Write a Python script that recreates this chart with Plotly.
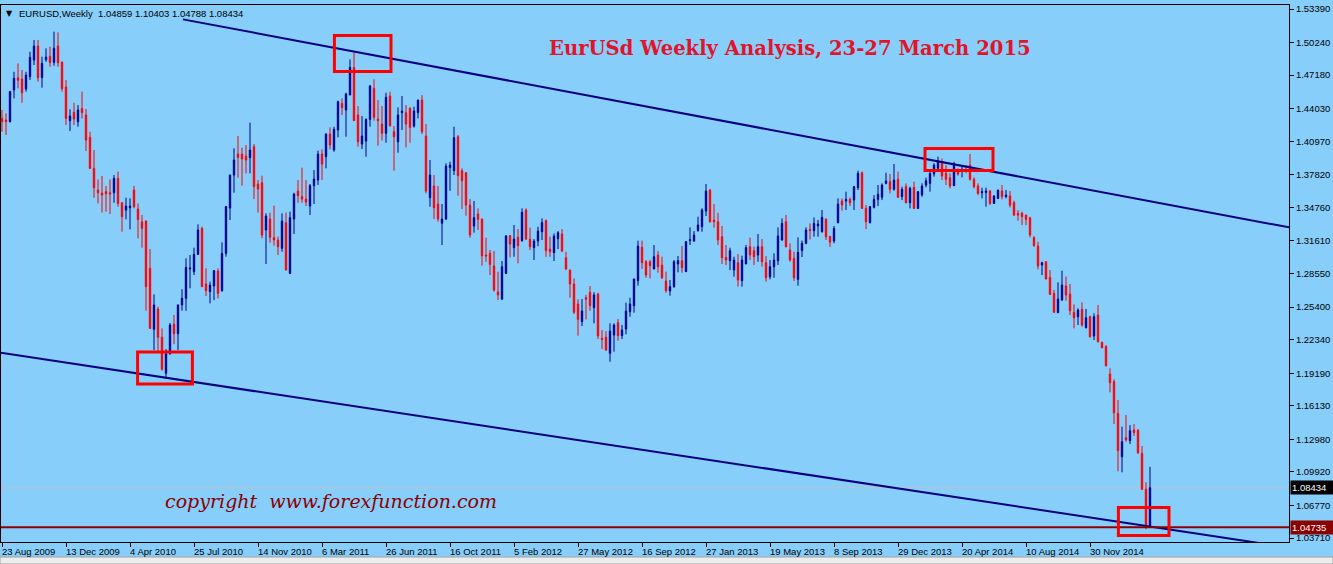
import plotly.graph_objects as go

# ---------------- data ----------------
bars = list(range(288))  # weekly bar index, bar 0 = week of 23 Aug 2009

opens = [
    1.4312, 1.4297, 1.4281, 1.4578, 1.4694, 1.4682, 1.4588, 1.4704, 1.4860, 1.4992,
    1.4694, 1.4863, 1.4894, 1.4838, 1.4992, 1.4841, 1.4607, 1.4290, 1.4369, 1.4281,
    1.4406, 1.4344, 1.4134, 1.3843, 1.3639, 1.3611, 1.3624, 1.3614, 1.3614, 1.3749,
    1.3520, 1.3451, 1.3473, 1.3639, 1.3461, 1.3342, 1.3348, 1.2904, 1.2331, 1.2522,
    1.2256, 1.1918, 1.2106, 1.2380, 1.2290, 1.2560, 1.2622, 1.2898, 1.2873, 1.3035,
    1.3280, 1.2757, 1.2685, 1.2738, 1.2879, 1.2694, 1.3045, 1.3470, 1.3780, 1.3978,
    1.3978, 1.3959, 1.3943, 1.4046, 1.3696, 1.3708, 1.3264, 1.3367, 1.3192, 1.3170,
    1.3092, 1.3333, 1.2857, 1.3367, 1.3630, 1.3577, 1.3555, 1.3489, 1.3680, 1.3733,
    1.3978, 1.3953, 1.4165, 1.4015, 1.4203, 1.4453, 1.4391, 1.4532, 1.4791, 1.4344,
    1.4071, 1.4099, 1.4303, 1.4594, 1.4306, 1.4259, 1.4172, 1.4522, 1.4187, 1.4093,
    1.4366, 1.4366, 1.4406, 1.4240, 1.4366, 1.4484, 1.4146, 1.3567, 1.3677, 1.3508,
    1.3327, 1.3367, 1.3849, 1.3821, 1.4140, 1.3821, 1.3802, 1.3498, 1.3301, 1.3414,
    1.3367, 1.3029, 1.3045, 1.2926, 1.2682, 1.2616, 1.2857, 1.3211, 1.3098, 1.3195,
    1.3164, 1.3452, 1.3176, 1.3098, 1.3160, 1.3248, 1.3351, 1.3085, 1.3051, 1.3182,
    1.3226, 1.3004, 1.2888, 1.2757, 1.2569, 1.2403, 1.2628, 1.2679, 1.2535, 1.2663,
    1.2247, 1.2256, 1.2106, 1.2278, 1.2394, 1.2272, 1.2334, 1.2497, 1.2553, 1.2788,
    1.3101, 1.2966, 1.2966, 1.2898, 1.3029, 1.2935, 1.2785, 1.2691, 1.2732, 1.2945,
    1.2976, 1.2873, 1.3164, 1.3160, 1.3258, 1.3295, 1.3442, 1.3639, 1.3358, 1.3342,
    1.3201, 1.3007, 1.2976, 1.2888, 1.2957, 1.2788, 1.2945, 1.3107, 1.3070, 1.3029,
    1.3107, 1.2957, 1.2825, 1.2919, 1.2976, 1.3170, 1.3342, 1.3076, 1.2998, 1.2800,
    1.3070, 1.3140, 1.3270, 1.3258, 1.3302, 1.3248, 1.3367, 1.3201, 1.3160, 1.3333,
    1.3536, 1.3536, 1.3552, 1.3545, 1.3661, 1.3802, 1.3467, 1.3333, 1.3477, 1.3552,
    1.3571, 1.3702, 1.3718, 1.3646, 1.3740, 1.3577, 1.3671, 1.3520, 1.3664, 1.3467,
    1.3592, 1.3686, 1.3702, 1.3790, 1.3843, 1.3905, 1.3796, 1.3755, 1.3680, 1.3827,
    1.3821, 1.3834, 1.3874, 1.3740, 1.3677, 1.3614, 1.3617, 1.3630, 1.3514, 1.3561,
    1.3630, 1.3577, 1.3583, 1.3520, 1.3420, 1.3420, 1.3404, 1.3379, 1.3192, 1.3113,
    1.2935, 1.2966, 1.2819, 1.2669, 1.2487, 1.2606, 1.2738, 1.2663, 1.2491, 1.2450,
    1.2519, 1.2346, 1.2450, 1.2268, 1.2465, 1.2209, 1.2168, 1.1911, 1.1840, 1.1542,
    1.1135, 1.1314, 1.1286, 1.1386, 1.1386, 1.1167, 1.0829, 1.04859,
]

highs = [
    1.4391, 1.4359, 1.4570, 1.4750, 1.4829, 1.4766, 1.4750, 1.4938, 1.5048, 1.5048,
    1.4891, 1.4970, 1.4985, 1.5126, 1.5120, 1.4845, 1.4672, 1.4397, 1.4459, 1.4438,
    1.4563, 1.4400, 1.4187, 1.4015, 1.3739, 1.3771, 1.3677, 1.3739, 1.3780, 1.3812,
    1.3523, 1.3567, 1.3561, 1.3677, 1.3514, 1.3405, 1.3352, 1.3085, 1.2660, 1.2544,
    1.2340, 1.2146, 1.2390, 1.2466, 1.2565, 1.2707, 1.2998, 1.3029, 1.3098, 1.3317,
    1.3295, 1.2904, 1.2779, 1.2888, 1.2904, 1.3148, 1.3490, 1.3785, 1.4031, 1.4147,
    1.4037, 1.4062, 1.4272, 1.4071, 1.3733, 1.3774, 1.3420, 1.3427, 1.3492, 1.3201,
    1.3420, 1.3427, 1.3436, 1.3614, 1.3733, 1.3849, 1.3733, 1.3696, 1.3827, 1.4009,
    1.4021, 1.4172, 1.4228, 1.4234, 1.4478, 1.4500, 1.4553, 1.4866, 1.4929, 1.4428,
    1.4334, 1.4312, 1.4626, 1.4679, 1.4485, 1.4428, 1.4553, 1.4563, 1.4240, 1.4416,
    1.4522, 1.4437, 1.4416, 1.4422, 1.4488, 1.4531, 1.4259, 1.3921, 1.3780, 1.3677,
    1.3508, 1.3890, 1.3905, 1.4234, 1.4156, 1.3843, 1.3805, 1.3555, 1.3536, 1.3467,
    1.3370, 1.3192, 1.3076, 1.3067, 1.2872, 1.2973, 1.3217, 1.3217, 1.3311, 1.3273,
    1.3467, 1.3467, 1.3286, 1.3179, 1.3295, 1.3373, 1.3364, 1.3201, 1.3232, 1.3254,
    1.3273, 1.3060, 1.2890, 1.2810, 1.2613, 1.2616, 1.2654, 1.2738, 1.2679, 1.2675,
    1.2325, 1.2315, 1.2387, 1.2387, 1.2428, 1.2372, 1.2582, 1.2628, 1.2806, 1.3164,
    1.3164, 1.2982, 1.2982, 1.3123, 1.3066, 1.3013, 1.2873, 1.2794, 1.2982, 1.3020,
    1.3113, 1.3160, 1.3289, 1.3254, 1.3389, 1.3467, 1.3696, 1.3649, 1.3508, 1.3426,
    1.3301, 1.3123, 1.3098, 1.3013, 1.3038, 1.3023, 1.3123, 1.3192, 1.3107, 1.3226,
    1.3179, 1.3020, 1.2982, 1.3045, 1.3289, 1.3373, 1.3405, 1.3138, 1.3060, 1.3195,
    1.3165, 1.3289, 1.3326, 1.3383, 1.3358, 1.3452, 1.3370, 1.3210, 1.3301, 1.3561,
    1.3561, 1.3624, 1.3570, 1.3677, 1.3821, 1.3812, 1.3499, 1.3489, 1.3592, 1.3686,
    1.3702, 1.3802, 1.3790, 1.3884, 1.3812, 1.3671, 1.3702, 1.3671, 1.3718, 1.3630,
    1.3702, 1.3755, 1.3812, 1.3890, 1.3952, 1.3937, 1.3874, 1.3796, 1.3905, 1.3843,
    1.3859, 1.3874, 1.3977, 1.3758, 1.3702, 1.3661, 1.3661, 1.3639, 1.3592, 1.3642,
    1.3686, 1.3639, 1.3630, 1.3539, 1.3451, 1.3436, 1.3406, 1.3389, 1.3207, 1.3154,
    1.2966, 1.2973, 1.2888, 1.2700, 1.2772, 1.2882, 1.2826, 1.2757, 1.2566, 1.2528,
    1.2584, 1.2522, 1.2459, 1.2481, 1.2559, 1.2215, 1.2184, 1.1965, 1.1861, 1.1667,
    1.1417, 1.1526, 1.1432, 1.1442, 1.1390, 1.1236, 1.0894, 1.10403,
]

lows = [
    1.4187, 1.4156, 1.4275, 1.4500, 1.4594, 1.4459, 1.4563, 1.4672, 1.4813, 1.4657,
    1.4600, 1.4844, 1.4797, 1.4807, 1.4797, 1.4563, 1.4250, 1.4193, 1.4250, 1.4234,
    1.4312, 1.4006, 1.3837, 1.3567, 1.3514, 1.3427, 1.3436, 1.3414, 1.3520, 1.3483,
    1.3248, 1.3364, 1.3270, 1.3467, 1.3186, 1.3098, 1.2506, 1.2340, 1.2137, 1.2122,
    1.1943, 1.1865, 1.2090, 1.2193, 1.2137, 1.2506, 1.2506, 1.2716, 1.2841, 1.3029,
    1.2732, 1.2644, 1.2575, 1.2606, 1.2622, 1.2685, 1.3013, 1.3358, 1.3614, 1.3755,
    1.3680, 1.3796, 1.3796, 1.3555, 1.3427, 1.3186, 1.2945, 1.3145, 1.3117, 1.3029,
    1.3060, 1.2885, 1.2850, 1.3227, 1.3520, 1.3520, 1.3489, 1.3405, 1.3508, 1.3686,
    1.3733, 1.3843, 1.4021, 1.3999, 1.4134, 1.4344, 1.4140, 1.4530, 1.4288, 1.4046,
    1.4024, 1.3952, 1.4234, 1.4291, 1.4056, 1.4103, 1.4084, 1.4234, 1.3821, 1.3990,
    1.4203, 1.4040, 1.4084, 1.4225, 1.4312, 1.4165, 1.3608, 1.3483, 1.3367, 1.3342,
    1.3123, 1.3358, 1.3633, 1.3780, 1.3586, 1.3461, 1.3398, 1.3192, 1.3239, 1.3264,
    1.2929, 1.2966, 1.2841, 1.2685, 1.2606, 1.2606, 1.2850, 1.3007, 1.3013, 1.2951,
    1.3154, 1.3170, 1.3076, 1.2982, 1.3113, 1.3170, 1.3013, 1.3013, 1.2973, 1.3085,
    1.3057, 1.2888, 1.2628, 1.2475, 1.2272, 1.2362, 1.2425, 1.2506, 1.2387, 1.2240,
    1.2147, 1.2128, 1.2027, 1.2121, 1.2225, 1.2240, 1.2284, 1.2450, 1.2487, 1.2741,
    1.2898, 1.2816, 1.2810, 1.2896, 1.2863, 1.2804, 1.2675, 1.2647, 1.2722, 1.2866,
    1.2863, 1.2870, 1.3123, 1.3154, 1.3248, 1.3248, 1.3395, 1.3333, 1.3286, 1.3123,
    1.2945, 1.2935, 1.2888, 1.2826, 1.2732, 1.2732, 1.2943, 1.2982, 1.2935, 1.2966,
    1.2920, 1.2779, 1.2801, 1.2816, 1.2935, 1.3164, 1.3101, 1.2966, 1.2785, 1.2741,
    1.3010, 1.3130, 1.3175, 1.3201, 1.3201, 1.3240, 1.3170, 1.3105, 1.3140, 1.3326,
    1.3445, 1.3452, 1.3489, 1.3452, 1.3639, 1.3465, 1.3273, 1.3326, 1.3467, 1.3489,
    1.3545, 1.3693, 1.3608, 1.3633, 1.3567, 1.3545, 1.3514, 1.3467, 1.3461, 1.3461,
    1.3577, 1.3664, 1.3624, 1.3765, 1.3834, 1.3733, 1.3686, 1.3655, 1.3678, 1.3774,
    1.3758, 1.3796, 1.3727, 1.3655, 1.3592, 1.3561, 1.3483, 1.3499, 1.3510, 1.3558,
    1.3552, 1.3561, 1.3476, 1.3395, 1.3351, 1.3310, 1.3310, 1.3195, 1.3107, 1.2894,
    1.2841, 1.2800, 1.2653, 1.2487, 1.2485, 1.2600, 1.2600, 1.2465, 1.2340, 1.2372,
    1.2356, 1.2340, 1.2253, 1.2231, 1.2206, 1.2153, 1.1981, 1.1739, 1.1442, 1.0998,
    1.0988, 1.1276, 1.1254, 1.1329, 1.1160, 1.0822, 1.0453, 1.04788,
]

closes = [
    1.4281, 1.4281, 1.4563, 1.4688, 1.4669, 1.4553, 1.4719, 1.4885, 1.4992, 1.4694,
    1.4829, 1.4888, 1.4838, 1.4970, 1.4835, 1.4591, 1.4312, 1.4334, 1.4306, 1.4391,
    1.4366, 1.4109, 1.3843, 1.3661, 1.3614, 1.3592, 1.3605, 1.3602, 1.3749, 1.3514,
    1.3389, 1.3489, 1.3489, 1.3483, 1.3361, 1.3280, 1.2732, 1.2340, 1.2560, 1.2256,
    1.1956, 1.2100, 1.2372, 1.2290, 1.2560, 1.2622, 1.2913, 1.2907, 1.3035, 1.3264,
    1.2732, 1.2694, 1.2747, 1.2882, 1.2669, 1.3045, 1.3483, 1.3780, 1.3921, 1.3946,
    1.3931, 1.3921, 1.4015, 1.3671, 1.3649, 1.3217, 1.3395, 1.3195, 1.3170, 1.3107,
    1.3348, 1.2888, 1.3380, 1.3602, 1.3586, 1.3555, 1.3527, 1.3680, 1.3743, 1.3978,
    1.3884, 1.4165, 1.4062, 1.4209, 1.4469, 1.4413, 1.4541, 1.4791, 1.4291, 1.4093,
    1.4147, 1.4303, 1.4616, 1.4322, 1.4291, 1.4172, 1.4510, 1.4244, 1.4140, 1.4344,
    1.4381, 1.4259, 1.4228, 1.4381, 1.4484, 1.4187, 1.3630, 1.3780, 1.3473, 1.3367,
    1.3367, 1.3865, 1.3874, 1.4131, 1.3774, 1.3727, 1.3498, 1.3217, 1.3380, 1.3364,
    1.3023, 1.3020, 1.2941, 1.2700, 1.2654, 1.2919, 1.3207, 1.3132, 1.3179, 1.3117,
    1.3430, 1.3179, 1.3107, 1.3160, 1.3254, 1.3333, 1.3070, 1.3060, 1.3207, 1.3239,
    1.3067, 1.2898, 1.2757, 1.2491, 1.2425, 1.2503, 1.2616, 1.2553, 1.2654, 1.2269,
    1.2237, 1.2137, 1.2315, 1.2372, 1.2272, 1.2325, 1.2503, 1.2569, 1.2804, 1.3113,
    1.2957, 1.2841, 1.2929, 1.3013, 1.2920, 1.2816, 1.2694, 1.2732, 1.2966, 1.2976,
    1.2910, 1.3154, 1.3173, 1.3217, 1.3311, 1.3452, 1.3630, 1.3342, 1.3342, 1.3170,
    1.3004, 1.2982, 1.3070, 1.2982, 1.2794, 1.2982, 1.3098, 1.3029, 1.3013, 1.3107,
    1.2966, 1.2816, 1.2919, 1.2982, 1.3207, 1.3326, 1.3107, 1.2982, 1.2816, 1.3054,
    1.3140, 1.3264, 1.3258, 1.3326, 1.3320, 1.3383, 1.3201, 1.3150, 1.3279, 1.3508,
    1.3499, 1.3552, 1.3520, 1.3671, 1.3796, 1.3467, 1.3342, 1.3483, 1.3552, 1.3599,
    1.3686, 1.3724, 1.3646, 1.3733, 1.3571, 1.3646, 1.3520, 1.3655, 1.3467, 1.3624,
    1.3677, 1.3727, 1.3796, 1.3874, 1.3912, 1.3771, 1.3740, 1.3677, 1.3880, 1.3790,
    1.3834, 1.3821, 1.3740, 1.3671, 1.3608, 1.3624, 1.3630, 1.3514, 1.3583, 1.3639,
    1.3577, 1.3592, 1.3498, 1.3404, 1.3404, 1.3389, 1.3364, 1.3217, 1.3117, 1.2926,
    1.2957, 1.2804, 1.2660, 1.2491, 1.2616, 1.2747, 1.2653, 1.2506, 1.2440, 1.2512,
    1.2372, 1.2440, 1.2262, 1.2450, 1.2215, 1.2159, 1.1990, 1.1830, 1.1548, 1.1192,
    1.1276, 1.1292, 1.1379, 1.1361, 1.1173, 1.0829, 1.0478, 1.08434,
]

date_label_bars = [0, 16, 32, 48, 64, 80, 96, 112, 128, 144, 160, 176, 192, 208, 224, 240, 256, 272]
date_labels = ["23 Aug 2009", "13 Dec 2009", "4 Apr 2010", "25 Jul 2010", "14 Nov 2010",
               "6 Mar 2011", "26 Jun 2011", "16 Oct 2011", "5 Feb 2012", "27 May 2012",
               "16 Sep 2012", "27 Jan 2013", "19 May 2013", "8 Sep 2013", "29 Dec 2013",
               "20 Apr 2014", "10 Aug 2014", "30 Nov 2014"]

price_tick_labels = ["1.53390", "1.50240", "1.47180", "1.44030", "1.40970", "1.37820",
                     "1.34760", "1.31610", "1.28550", "1.25400", "1.22340", "1.19190",
                     "1.16130", "1.12980", "1.09920", "1.06770", "1.03710"]

# trend lines (bar index, price)
upper_trend_x = [45.25, 321.75]
upper_trend_y = [1.5242, 1.3289]
lower_trend_x = [-0.5, 321.75]
lower_trend_y = [1.2112, 1.0282]

# highlight boxes: (bar from, bar to, price low, price high)
highlight_boxes = [
    (83.1, 97.25, 1.4752, 1.5090),
    (33.9, 47.6, 1.1818, 1.2118),
    (230.75, 247.75, 1.3822, 1.4029),
    (279.1, 291.75, 1.0395, 1.0658),
]

bid_price = 1.08434
level_price = 1.04735
header_text = "EURUSD,Weekly  1.04859 1.10403 1.04788 1.08434"
title_text = "EurUSd Weekly Analysis, 23-27 March 2015"
copyright_text = "copyright  www.forexfunction.com"

# ---------------- styling ----------------
BG = "#87CEFA"
BULL = "#00008B"
BEAR = "#FF0000"
LINE = "#000080"
AXFONT = dict(family="Liberation Sans, Arial, sans-serif", size=9.5, color="black")

W, H = 1333, 564
L_M, R_M, T_M, B_M = 1, 44, 5, 22
PW = W - L_M - R_M
PH = H - T_M - B_M


def px_x(px):
    return (px - L_M) / PW


def px_y(py):
    return (H - B_M - py) / PH


fig = go.Figure()

fig.add_trace(go.Candlestick(
    x=bars, open=opens, high=highs, low=lows, close=closes,
    increasing=dict(line=dict(color=BULL, width=1), fillcolor=BULL),
    decreasing=dict(line=dict(color=BEAR, width=1), fillcolor=BEAR),
    whiskerwidth=0, showlegend=False, hoverinfo="skip",
))

# price lines
fig.add_shape(type="line", xref="paper", yref="y", x0=0, x1=1, y0=bid_price, y1=bid_price,
              line=dict(color="#C0C0C0", width=1), layer="below")
fig.add_shape(type="line", xref="paper", yref="y", x0=0, x1=1, y0=level_price, y1=level_price,
              line=dict(color="#8B0000", width=2))

# trend lines
fig.add_trace(go.Scatter(x=upper_trend_x, y=upper_trend_y, mode="lines",
                         line=dict(color=LINE, width=2), showlegend=False, hoverinfo="skip"))
fig.add_trace(go.Scatter(x=lower_trend_x, y=lower_trend_y, mode="lines",
                         line=dict(color=LINE, width=2), showlegend=False, hoverinfo="skip"))

for (b0, b1, p0, p1) in highlight_boxes:
    fig.add_shape(type="rect", xref="x", yref="y", x0=b0, x1=b1, y0=p0, y1=p1,
                  line=dict(color="#FF0000", width=3), fillcolor="rgba(0,0,0,0)")

annotations = []
# date labels (left aligned after tick, like MetaTrader)
for b, t in zip(date_label_bars, date_labels):
    annotations.append(dict(x=b, xref="x", y=px_y(551), yref="paper", text=t,
                            showarrow=False, xanchor="left", yanchor="middle",
                            xshift=-2, font=AXFONT))

annotations.append(dict(x=px_x(9), y=px_y(13.5), xref="paper", yref="paper", text="▼",
                        showarrow=False, xanchor="center", yanchor="middle",
                        font=dict(family="DejaVu Sans", size=8, color="black")))
annotations.append(dict(x=px_x(17), y=px_y(13.7), xref="paper", yref="paper", text=header_text,
                        showarrow=False, xanchor="left", yanchor="middle", font=AXFONT))

annotations.append(dict(x=px_x(790), y=px_y(48.5), xref="paper", yref="paper",
                        text="<b>" + title_text + "</b>", showarrow=False,
                        xanchor="center", yanchor="middle",
                        font=dict(family="DejaVu Serif, serif", size=19.6, color="#E0142A")))
annotations.append(dict(x=px_x(331), y=px_y(500.5), xref="paper", yref="paper",
                        text="<i>" + copyright_text + "</i>", showarrow=False,
                        xanchor="center", yanchor="middle",
                        font=dict(family="DejaVu Serif, serif", size=19, color="#8B0000")))

for price, bg in ((bid_price, "black"), (level_price, "#8B0000")):
    annotations.append(dict(x=1, xref="paper", y=price, yref="y", text=f"{price:.5f}",
                            showarrow=False, xanchor="left", yanchor="middle", xshift=1,
                            width=40, align="left", bgcolor=bg, borderpad=1,
                            font=dict(family="Liberation Sans, Arial, sans-serif", size=9.5,
                                      color="white")))

# window frame strip at the bottom
fig.add_shape(type="rect", xref="paper", yref="paper", x0=px_x(0), x1=px_x(W),
              y0=px_y(H), y1=px_y(557), fillcolor="#EDEDED",
              line=dict(color="#A0A0A0", width=1))

fig.update_layout(
    width=W, height=H,
    margin=dict(l=L_M, r=R_M, t=T_M, b=B_M),
    paper_bgcolor=BG, plot_bgcolor=BG,
    boxgap=0.5,
    hovermode=False,
    showlegend=False,
    annotations=annotations,
    xaxis=dict(range=[-0.25, 321.75], tickvals=date_label_bars, showticklabels=False,
               ticks="outside", ticklen=4, tickcolor="black", tickwidth=1,
               showline=True, linecolor="black", linewidth=1, mirror=True,
               showgrid=False, zeroline=False, rangeslider=dict(visible=False), fixedrange=True),
    yaxis=dict(side="right", range=[1.0334, 1.5377],
               tickvals=[float(v) for v in price_tick_labels], ticktext=price_tick_labels,
               ticks="outside", ticklen=4, tickcolor="black", tickwidth=1, tickfont=AXFONT,
               showline=True, linecolor="black", linewidth=1, mirror=True,
               showgrid=False, zeroline=False, fixedrange=True),
)

fig.write_html(
    "out.html",
    config={"displayModeBar": False},
    post_script="document.body.style.margin='0';document.body.style.overflow='hidden';",
)
